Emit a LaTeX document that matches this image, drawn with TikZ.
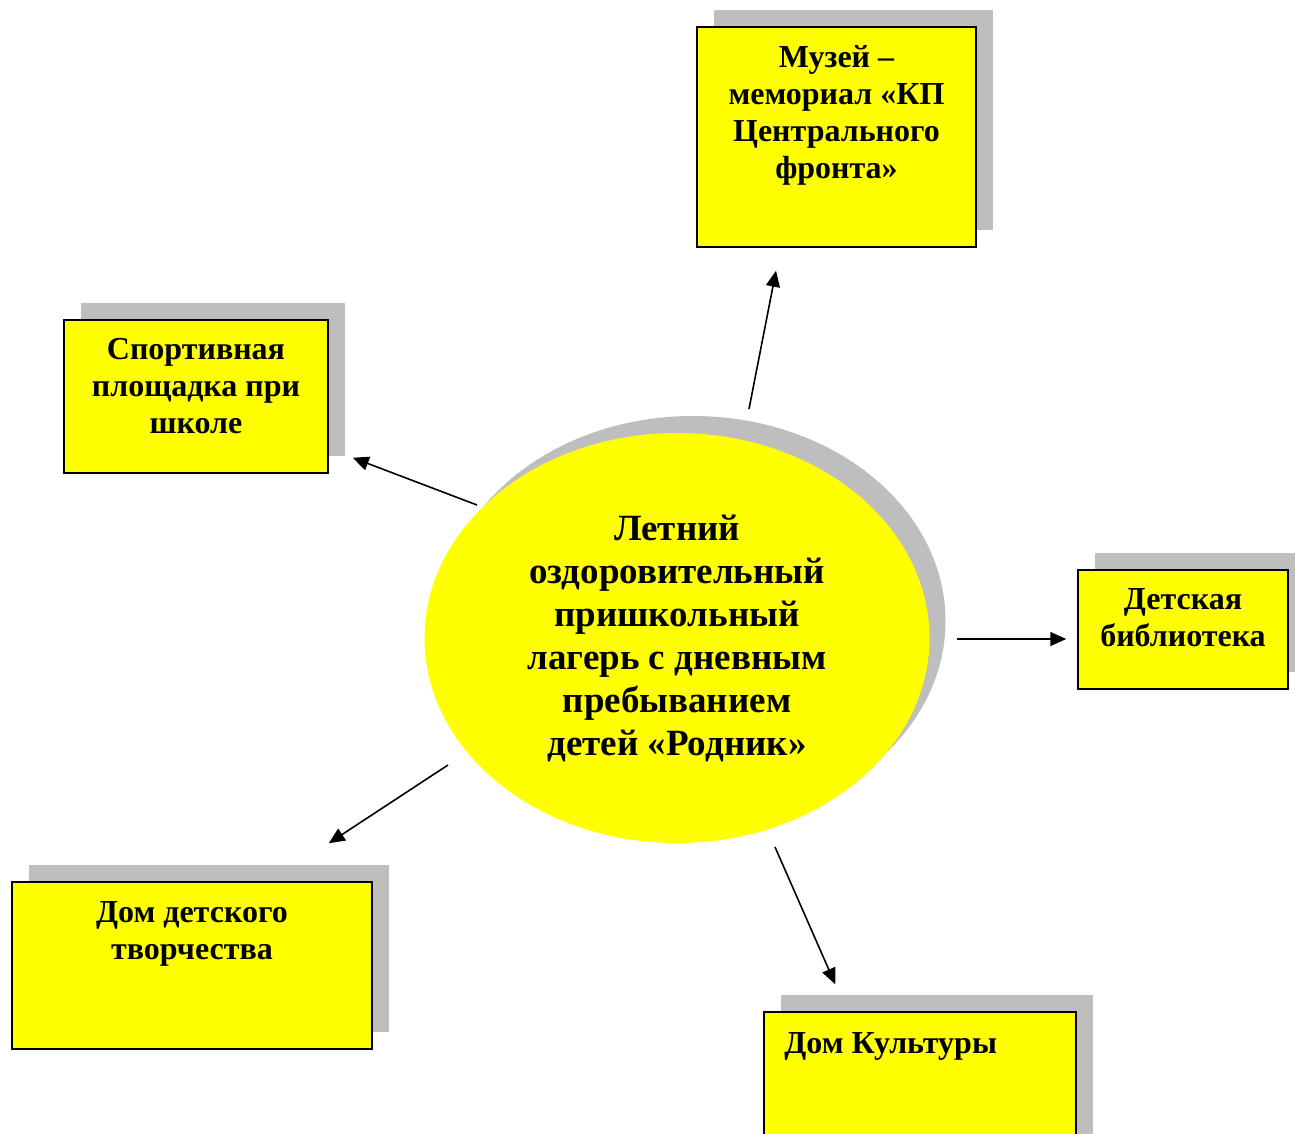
\documentclass[tikz,border=0pt]{standalone}
\usepackage{fontspec}
\setmainfont{Liberation Serif}
\usetikzlibrary{arrows.meta,shapes.geometric,shadows,positioning}
\definecolor{boxyellow}{RGB}{255,255,0}
\definecolor{shadowgray}{RGB}{190,190,190}

\tikzset{
  placebox/.style={draw=black, line width=1.5pt, fill=boxyellow, inner sep=0pt,
    drop shadow={shadow xshift=17pt, shadow yshift=17pt, fill=shadowgray, opacity=1}},
  boxtext/.style={inner sep=0pt, align=center, font=\fontsize{32}{37}\selectfont\bfseries},
  camp/.style={ellipse, fill=boxyellow, inner sep=0pt, minimum width=505pt, minimum height=410pt,
    align=center, font=\fontsize{37}{43}\selectfont\bfseries,
    drop shadow={shadow xshift=16pt, shadow yshift=17pt, fill=shadowgray, opacity=1}},
  arr/.style={-{Triangle[length=16pt,width=14pt]}, line width=1.6pt}
}

\begin{document}
\begin{tikzpicture}[x=1pt,y=-1pt]
  \useasboundingbox (0,0) rectangle (1295,1133);

  % Camp in the middle
  \node[camp] (camp) at (677,638) {Летний\\оздоровительный\\пришкольный\\лагерь с дневным\\пребыванием\\детей «Родник»};

  % Places around the camp
  \node[placebox, minimum width=279pt, minimum height=220pt] (museum) at (836.5,137) {};
  \node[boxtext, below=19pt of museum.north] (museum text) {Музей –\\мемориал «КП\\Центрального\\фронта»};

  \node[placebox, minimum width=264pt, minimum height=153pt] (sport) at (196,396.5) {};
  \node[boxtext, below=19pt of sport.north] (sport text) {Спортивная\\площадка при\\школе};

  \node[placebox, minimum width=210pt, minimum height=119pt] (library) at (1183,629.5) {};
  \node[boxtext, below=19pt of library.north] (library text) {Детская\\библиотека};

  \node[placebox, minimum width=360pt, minimum height=167pt] (ddt) at (192,965.5) {};
  \node[boxtext, below=20pt of ddt.north] (ddt text) {Дом детского\\творчества};

  \node[placebox, minimum width=312pt, minimum height=140pt] (culture) at (920,1082) {};
  \node[boxtext, align=left, below right=21pt and 21pt of culture.north west] (culture text) {Дом Культуры};

  % Arrow ends
  \coordinate (museum tail) at ([shift={(72,-229)}]camp.center);
  \coordinate (museum head) at ([shift={(-60.5,23)}]museum.south);
  \coordinate (sport tail) at ([shift={(-200,-133)}]camp.center);
  \coordinate (sport head) at ([shift={(24,-16)}]sport.south east);
  \coordinate (library tail) at ([shift={(280,1)}]camp.center);
  \coordinate (library head) at ([shift={(-11,9.5)}]library.west);
  \coordinate (ddt tail) at ([shift={(-229,127)}]camp.center);
  \coordinate (ddt head) at ([shift={(-44,-38)}]ddt.north east);
  \coordinate (culture tail) at ([shift={(98,209)}]camp.center);
  \coordinate (culture head) at ([shift={(72,-27)}]culture.north west);

  % Arrows
  \draw[arr] (museum tail) -- (museum head);
  \draw[arr] (sport tail) -- (sport head);
  \draw[arr] (library tail) -- (library head);
  \draw[arr] (ddt tail) -- (ddt head);
  \draw[arr] (culture tail) -- (culture head);
\end{tikzpicture}
\end{document}
